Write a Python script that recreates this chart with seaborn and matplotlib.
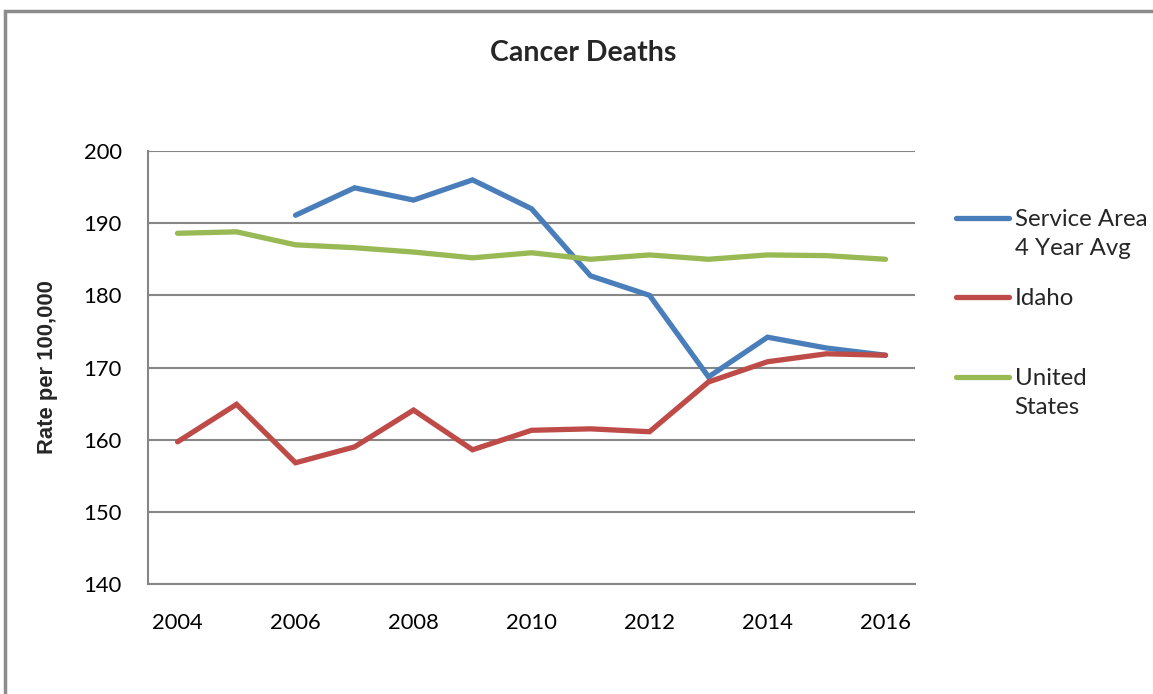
import numpy as np
import pandas as pd
import matplotlib
matplotlib.use("Agg")
import matplotlib.pyplot as plt
from matplotlib.lines import Line2D
from matplotlib.patches import Rectangle
import seaborn as sns

# Data
years = list(range(2004, 2017))
service_area = [np.nan, np.nan, 191.1, 194.9, 193.2, 196.0, 192.0, 182.7, 180.0, 168.7, 174.2, 172.7, 171.7]
idaho = [159.7, 164.9, 156.8, 159.0, 164.1, 158.6, 161.3, 161.5, 161.1, 168.0, 170.8, 171.9, 171.7]
united_states = [188.6, 188.8, 187.0, 186.6, 186.0, 185.2, 185.9, 185.0, 185.6, 185.0, 185.6, 185.5, 185.0]

series_names = ["Service Area\n4 Year Avg", "Idaho", "United\nStates"]
colors = ["#4A7EBB", "#BE4B48", "#98B954"]
y_ticks = [140, 150, 160, 170, 180, 190, 200]
x_ticks = [2004, 2006, 2008, 2010, 2012, 2014, 2016]

df = pd.DataFrame({
    "Year": years * 3,
    "Rate": service_area + idaho + united_states,
    "Series": [series_names[0]] * 13 + [series_names[1]] * 13 + [series_names[2]] * 13,
})

sns.set_style("white")
plt.rcParams["font.family"] = ["Lato", "DejaVu Sans"]

fig = plt.figure(figsize=(11.53, 6.94), dpi=100)
ax = fig.add_axes([0.1284, 0.1585, 0.6652, 0.6239])

sns.lineplot(
    data=df, x="Year", y="Rate", hue="Series",
    palette=colors, linewidth=3.8, ax=ax, legend=False,
)
for ln in ax.lines:
    ln.set_solid_capstyle("round")
    ln.set_solid_joinstyle("miter")

ax.set_xlim(2003.5, 2016.5)
ax.set_ylim(140, 200)
ax.set_yticks(y_ticks)
ax.set_xticks(x_ticks)
ax.set_xticklabels([str(x) for x in x_ticks])
ax.tick_params(axis="both", length=0, labelsize=15.8, colors="black")
ax.tick_params(axis="x", pad=21)
ax.tick_params(axis="y", pad=19)
ax.grid(axis="y", color="#868686", linewidth=1.5)
ax.set_axisbelow(True)
for side in ["top", "right"]:
    ax.spines[side].set_visible(False)
for side in ["left", "bottom"]:
    ax.spines[side].set_color("#868686")
    ax.spines[side].set_linewidth(1.5)

ax.set_xlabel("")
ax.set_ylabel("Rate per 100,000", fontsize=15.8, fontweight="bold",
              family=["Liberation Sans", "DejaVu Sans"], labelpad=18)

fig.text(0.506, 0.923, "Cancer Deaths", ha="center", va="center",
         fontsize=20.5, fontweight="bold")

# Legend drawn by hand so handles line up with the first line of text
legend_y = [0.686, 0.572, 0.457]
for name, col, ly in zip(series_names, colors, legend_y):
    fig.add_artist(Line2D([0.829, 0.875], [ly, ly], color=col, linewidth=3.8,
                          solid_capstyle="round", transform=fig.transFigure))
    fig.text(0.880, ly + 0.013, name, ha="left", va="top", fontsize=17.3,
             linespacing=1.5)

# Outer chart frame (cut off on the right and bottom)
fig.add_artist(Rectangle((0.0045, -0.1), 1.2, 1.084, transform=fig.transFigure,
                         fill=False, edgecolor="#8C8C8C", linewidth=2.5))

fig.savefig("out.png", dpi=100)
